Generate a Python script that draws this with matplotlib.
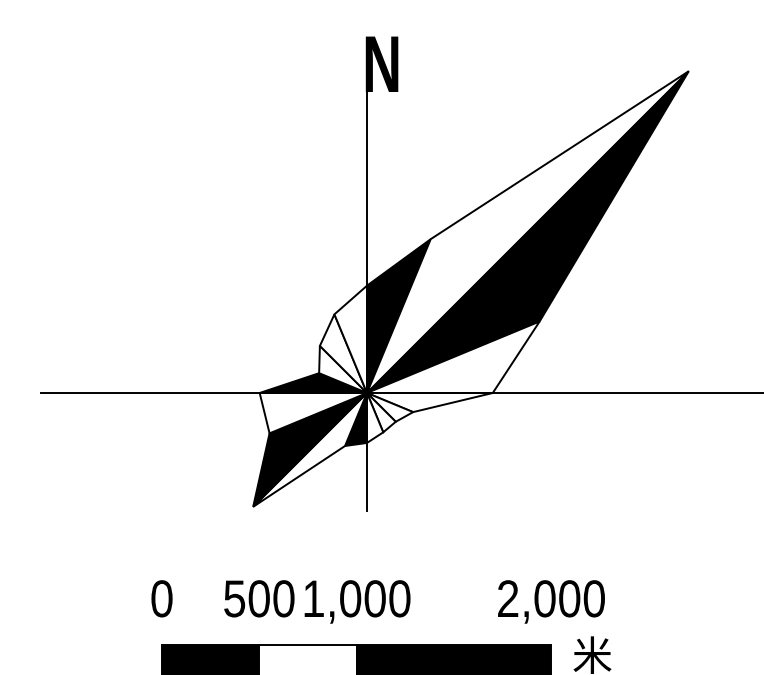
"""Wind rose with north arrow and map scale bar"""
import matplotlib
matplotlib.use('Agg')
import matplotlib.pyplot as plt
import numpy as np
from matplotlib.patheffects import AbstractPathEffect
from matplotlib.transforms import Affine2D

plt.rcParams['font.family'] = ['Liberation Sans', 'DejaVu Sans']

# Wind frequency (%) by direction, clockwise from north
directions = ['N', 'NNE', 'NE', 'ENE', 'E', 'ESE', 'SE', 'SSE',
              'S', 'SSW', 'SW', 'WSW', 'W', 'WNW', 'NW', 'NNW']
freq = [5.8, 9.0, 24.6, 10.1, 6.8, 2.7, 2.2, 2.3,
        2.7, 3.1, 8.7, 5.7, 5.8, 2.8, 3.6, 4.6]
# sector between direction i and i+1 drawn solid black
black_sectors = [0, 2, 8, 10, 12]

# Scale bar (metres)
scale_ticks = [0, 500, 1000, 2000]
scale_labels = ['0', '500', '1,000', '2,000']
scale_unit = '米'

W, H = 764, 675
PX_PER_PCT = 18.5          # rose size in pixels per percent
CX, CY = 367, 675 - 393    # rose centre (pixels, origin bottom-left)
R_PX = 470
RMAX = R_PX / PX_PER_PCT
LW = 1.4


class HSqueeze(AbstractPathEffect):
    """Narrow the glyphs horizontally about the text centre."""
    def __init__(self, sx):
        super().__init__()
        self.sx = sx

    def draw_path(self, renderer, gc, tpath, affine, rgbFace=None):
        bb = tpath.get_extents(affine)
        cx = (bb.x0 + bb.x1) / 2
        t = affine + Affine2D().translate(-cx, 0).scale(self.sx, 1).translate(cx, 0)
        renderer.draw_path(gc, tpath, t, rgbFace)


fig = plt.figure(figsize=(W / 100, H / 100), dpi=100, facecolor='white')

# --- rose ---
ax = fig.add_axes([(CX - R_PX) / W, (CY - R_PX) / H, 2 * R_PX / W, 2 * R_PX / H],
                  projection='polar')
ax.set_theta_zero_location('N')
ax.set_theta_direction(-1)
ax.set_rlim(0, RMAX)
ax.axis('off')

theta = np.deg2rad(np.arange(len(directions)) * 22.5)
n = len(directions)
for i in range(n):
    j = (i + 1) % n
    fc = 'black' if i in black_sectors else 'white'
    ax.fill([0, theta[i], theta[j]], [0, freq[i], freq[j]],
            facecolor=fc, edgecolor='black', linewidth=LW,
            joinstyle='miter', clip_on=False, zorder=2)

# cross-hair axes through the centre (lengths in %)
for ang, length in [(0, 16.9), (90, 21.8), (180, 6.4), (270, 17.6)]:
    a = np.deg2rad(ang)
    ax.plot([a, a], [0, length], color='black', linewidth=LW,
            clip_on=False, zorder=3)

# north label
fig.text(382 / W, (H - 92) / H, 'N', ha='center', va='baseline',
         fontsize=58, fontweight='bold', path_effects=[HSqueeze(0.685)])

# --- scale bar ---
PX_PER_M = 0.1945
X0 = 162
ax2 = fig.add_axes([0, 0, 1, 1])
ax2.set_xlim(-X0 / PX_PER_M, (W - X0) / PX_PER_M)
ax2.set_ylim(0, H)
ax2.axis('off')

lefts = scale_ticks[:-1]
widths = np.diff(scale_ticks)
colors = ['black' if k % 2 == 0 else 'white' for k in range(len(lefts))]
ax2.bar(lefts, 40, width=widths, bottom=-10, align='edge', color=colors,
        edgecolor='black', linewidth=LW)

for m, lab in zip(scale_ticks, scale_labels):
    ax2.text(m, 58, lab, ha='center', va='baseline', fontsize=38,
             path_effects=[HSqueeze(0.84)])

ax2.text(2000 + 41 / PX_PER_M, 4, scale_unit, ha='center', va='baseline',
         fontsize=29.5, family=['Noto Sans CJK SC', 'DejaVu Sans'])

fig.savefig('out.png', dpi=100, facecolor='white')
plt.close(fig)
